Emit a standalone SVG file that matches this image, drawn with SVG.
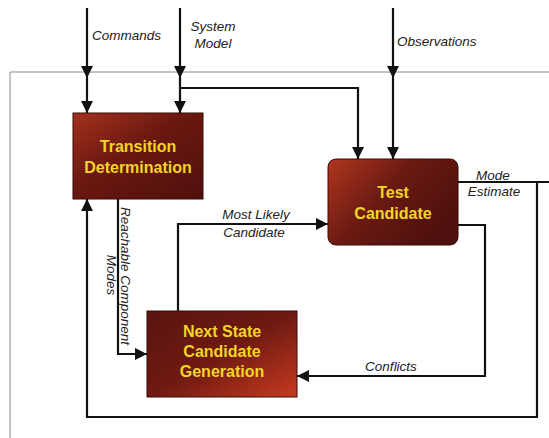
<svg xmlns="http://www.w3.org/2000/svg" width="549" height="438" viewBox="0 0 549 438">
  <defs>
    <linearGradient id="gTD" x1="0" y1="0" x2="1" y2="1">
      <stop offset="0" stop-color="#a3301c"/>
      <stop offset="0.45" stop-color="#6a1810"/>
      <stop offset="1" stop-color="#50100c"/>
    </linearGradient>
    <linearGradient id="gTC" x1="0" y1="0" x2="1" y2="0.6">
      <stop offset="0" stop-color="#b0361e"/>
      <stop offset="0.5" stop-color="#6a1a12"/>
      <stop offset="1" stop-color="#4e100c"/>
    </linearGradient>
    <linearGradient id="gNS" x1="0" y1="0" x2="1" y2="1">
      <stop offset="0" stop-color="#5a1410"/>
      <stop offset="0.5" stop-color="#6e1a12"/>
      <stop offset="1" stop-color="#c83a20"/>
    </linearGradient>
    <marker id="arr" viewBox="0 0 12 12" refX="12" refY="6" markerWidth="12" markerHeight="12" markerUnits="userSpaceOnUse" orient="auto">
      <path d="M0,0 L12,6 L0,12 Z" fill="#111"/>
    </marker>
    <marker id="mid" viewBox="0 0 12 12" refX="6" refY="6" markerWidth="12" markerHeight="12" markerUnits="userSpaceOnUse" orient="auto">
      <path d="M0,0 L12,6 L0,12 Z" fill="#111"/>
    </marker>
  </defs>
  <style>
    .frame { fill: none; stroke: #8a8a8a; stroke-width: 1; }
    .wire { fill: none; stroke: #111; stroke-width: 2.2; }
    .box { stroke: #3a0a06; stroke-width: 1; }
    .title { font-family: "Liberation Sans", Arial, sans-serif; font-weight: bold; font-size: 16px; fill: #f4d426; text-anchor: middle; }
    .lbl { font-family: "Liberation Sans", Arial, sans-serif; font-style: italic; font-size: 13.5px; fill: #222; }
  </style>

  <rect width="549" height="438" fill="#ffffff"/>

  <!-- system boundary -->
  <path class="frame" d="M549,72 L10,72 L10,438"/>

  <g id="connectors">
    <!-- Commands -->
    <path class="wire" d="M87,8 L87,72" marker-end="url(#mid)"/>
    <path class="wire" d="M87,72 L87,113" marker-end="url(#arr)"/>
    <!-- System Model -->
    <path class="wire" d="M180,8 L180,72" marker-end="url(#mid)"/>
    <path class="wire" d="M180,72 L180,113" marker-end="url(#arr)"/>
    <path class="wire" d="M180,88 L358,88 L358,159" marker-end="url(#arr)"/>
    <!-- Observations -->
    <path class="wire" d="M393,8 L393,72" marker-end="url(#mid)"/>
    <path class="wire" d="M393,72 L393,159" marker-end="url(#arr)"/>
    <!-- Mode Estimate output and feedback -->
    <path class="wire" d="M458,182 L549,182"/>
    <path class="wire" d="M537,182 L537,417 L87,417 L87,199" marker-end="url(#arr)"/>
    <!-- Reachable Component Modes -->
    <path class="wire" d="M118,199 L118,354 L147,354" marker-end="url(#arr)"/>
    <!-- Most Likely Candidate -->
    <path class="wire" d="M178,311 L178,224 L328,224" marker-end="url(#arr)"/>
    <!-- Conflicts -->
    <path class="wire" d="M458,225 L485,225 L485,376 L297,376" marker-end="url(#arr)"/>
  </g>

  <g id="transition-determination">
    <rect class="box" x="73" y="113" width="130" height="86" fill="url(#gTD)"/>
    <text class="title" x="138" y="152">Transition</text>
    <text class="title" x="138" y="173">Determination</text>
  </g>

  <g id="test-candidate">
    <rect class="box" x="328" y="159" width="130" height="86" rx="8" ry="8" fill="url(#gTC)"/>
    <text class="title" x="393" y="198">Test</text>
    <text class="title" x="393" y="219">Candidate</text>
  </g>

  <g id="next-state-candidate-generation">
    <rect class="box" x="147" y="311" width="150" height="86" fill="url(#gNS)"/>
    <text class="title" x="222" y="337">Next State</text>
    <text class="title" x="222" y="357">Candidate</text>
    <text class="title" x="222" y="377">Generation</text>
  </g>

  <g id="labels">
    <text class="lbl" x="92" y="40">Commands</text>
    <text class="lbl" x="213" y="31" text-anchor="middle">System</text>
    <text class="lbl" x="213" y="48" text-anchor="middle">Model</text>
    <text class="lbl" x="397" y="46">Observations</text>
    <text class="lbl" x="493" y="180" text-anchor="middle">Mode</text>
    <text class="lbl" x="494" y="196" text-anchor="middle">Estimate</text>
    <text class="lbl" x="256" y="219" text-anchor="middle">Most Likely</text>
    <text class="lbl" x="254" y="237" text-anchor="middle">Candidate</text>
    <text class="lbl" x="391" y="371" text-anchor="middle">Conflicts</text>
    <text class="lbl" transform="translate(121,276) rotate(90)" text-anchor="middle">Reachable Component</text>
    <text class="lbl" transform="translate(107,275) rotate(90)" text-anchor="middle">Modes</text>
  </g>
</svg>
